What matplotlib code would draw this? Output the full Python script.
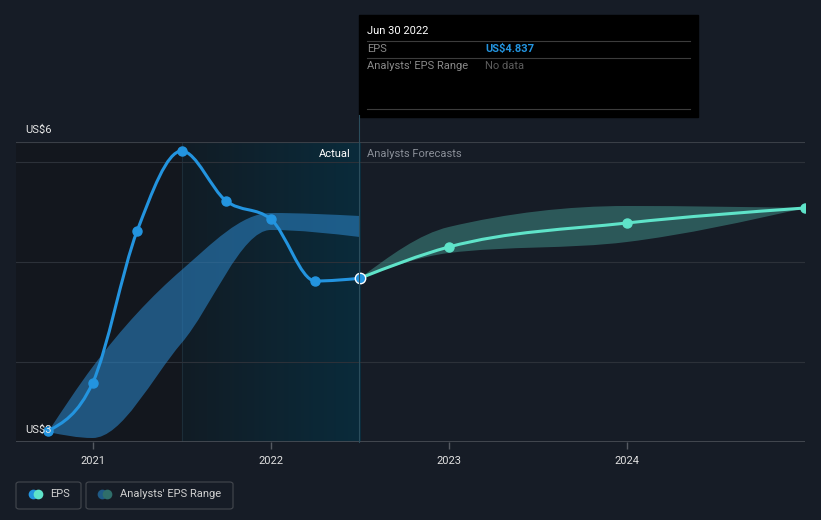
import numpy as np
import matplotlib.pyplot as plt
from matplotlib.path import Path
from matplotlib.patches import PathPatch, FancyBboxPatch, Rectangle
from matplotlib.colors import LinearSegmentedColormap

plt.rcParams['font.family'] = ['Roboto', 'DejaVu Sans']

# EPS history (quarter ends as decimal years)
eps_x = [2020.75, 2021.0, 2021.25, 2021.5, 2021.75, 2022.0, 2022.25, 2022.5]
eps_y = [3.31, 3.79, 5.31, 6.11, 5.61, 5.43, 4.81, 4.837]

# analysts' past EPS range
past_x = [2020.75, 2021.0, 2021.5, 2022.0, 2022.5]
past_lo = [3.30, 3.24, 4.19, 5.32, 5.25]
past_hi = [3.30, 3.95, 4.92, 5.49, 5.46]

# forecast
fc_x = [2022.5, 2023.0, 2024.0, 2025.0]
fc_y = [4.837, 5.15, 5.39, 5.54]
fc_lo = [4.837, 5.09, 5.20, 5.54]
fc_hi = [4.837, 5.35, 5.56, 5.54]

years = [2021, 2022, 2023, 2024]

BG = '#161c26'
BLUE = '#2394df'
TEAL = '#5fe3c9'


def mono_slopes(x, y):
    x = np.asarray(x, float)
    y = np.asarray(y, float)
    h = np.diff(x)
    s = np.diff(y) / h
    m = np.zeros(len(x))
    for i in range(1, len(x) - 1):
        p = (s[i - 1] * h[i] + s[i] * h[i - 1]) / (h[i - 1] + h[i])
        m[i] = (np.sign(s[i - 1]) + np.sign(s[i])) * min(abs(s[i - 1]), abs(s[i]), 0.5 * abs(p))
    m[0] = (3 * s[0] - m[1]) / 2 if len(x) > 2 else s[0]
    m[-1] = (3 * s[-1] - m[-2]) / 2 if len(x) > 2 else s[-1]
    return m


def bezier_pts(x, y):
    # control points of a monotone cubic curve through the points
    m = mono_slopes(x, y)
    verts = []
    for i in range(len(x) - 1):
        dx = (x[i + 1] - x[i]) / 3
        verts += [(x[i] + dx, y[i] + dx * m[i]),
                  (x[i + 1] - dx, y[i + 1] - dx * m[i + 1]),
                  (x[i + 1], y[i + 1])]
    return verts


def curve_path(x, y):
    verts = [(x[0], y[0])] + bezier_pts(x, y)
    codes = [Path.MOVETO] + [Path.CURVE4] * (len(verts) - 1)
    return Path(verts, codes)


def band_path(x, lo, hi):
    up = [(x[0], hi[0])] + bezier_pts(x, hi)
    xr = list(x)[::-1]
    down = [(xr[0], lo[-1])] + bezier_pts(xr, list(lo)[::-1])
    verts = up + down + [up[0]]
    codes = ([Path.MOVETO] + [Path.CURVE4] * (len(up) - 1) + [Path.LINETO]
             + [Path.CURVE4] * (len(down) - 1) + [Path.CLOSEPOLY])
    return Path(verts, codes)


fig = plt.figure(figsize=(8.21, 5.2), dpi=100, facecolor=BG)
ax = fig.add_axes([16 / 821, 78 / 520, 789 / 821, 300 / 520])
ax.set_facecolor(BG)
ax.set_xlim(2020.57, 2025.0)
ax.set_ylim(3.2, 6.2)

# shaded past regions
ax.add_patch(Rectangle((2020.57, 3.2), 2021.5 - 2020.57, 3.0, color='#13171e', zorder=0, lw=0))
cmap = LinearSegmentedColormap.from_list('act', ['#111c25', '#0a2b3b'])
ax.imshow(np.linspace(0, 1, 100).reshape(1, -1), cmap=cmap, aspect='auto',
          extent=[2021.5, 2022.5, 3.2, 6.2], zorder=0)
ax.set_xlim(2020.57, 2025.0)
ax.set_ylim(3.2, 6.2)
ax.axvline(2021.5, color='#1c2d38', lw=0.8, zorder=0.5)

for v in [4, 5, 6]:
    ax.axhline(v, color='#2c3139', lw=0.8, zorder=1)
ax.axhline(6.2, color='#3a3f47', lw=0.8, zorder=1)
ax.axhline(3.2, color='#4a4f57', lw=1.2, zorder=1)

# bands
ax.add_patch(PathPatch(band_path(past_x, past_lo, past_hi), fc='#2a80c0', ec='none', alpha=0.6, zorder=2))
ax.add_patch(PathPatch(band_path(fc_x, fc_lo, fc_hi), fc='#3f8a84', ec='none', alpha=0.55, zorder=2))

# lines
ax.add_patch(PathPatch(curve_path(eps_x, eps_y), fc='none', ec=BLUE, lw=2.2, zorder=3))
ax.add_patch(PathPatch(curve_path(fc_x, fc_y), fc='none', ec=TEAL, lw=2.2, zorder=3))
ax.plot(eps_x[:-1], eps_y[:-1], 'o', color=BLUE, ms=6.5, zorder=4)
ax.plot(fc_x[1:], fc_y[1:], 'o', color=TEAL, ms=6.5, zorder=4)
ax.plot(eps_x[-1], eps_y[-1], 'o', color=BLUE, mec='white', mew=1, ms=7.5, zorder=5)

for s in ax.spines.values():
    s.set_visible(False)
ax.set_yticks([])
ax.set_xticks(years)
ax.set_xticklabels([str(y) for y in years])
ax.tick_params(axis='x', colors='#555a62', length=5, width=1, labelcolor='#e0e0e0',
               labelsize=8, pad=5)

# divider and labels
fig.add_artist(plt.Line2D([359 / 821, 359 / 821], [78 / 520, 405 / 520], color='#2b4d5c', lw=0.8))
fig.text(351 / 821, 1 - 154 / 520, 'Actual', color='#ffffff', fontsize=8, ha='right', va='center')
fig.text(367 / 821, 1 - 154 / 520, 'Analysts Forecasts', color='#8a8f98', fontsize=8, ha='left', va='center')
fig.text(25 / 821, 1 - 130 / 520, 'US$6', color='#e6e6e6', fontsize=8, va='center')
fig.text(25 / 821, 1 - 430 / 520, 'US$3', color='#e6e6e6', fontsize=8, va='center', zorder=0)

# tooltip
fig.add_artist(Rectangle((359 / 821, 1 - 117 / 520), 339 / 821, 102 / 520, color='#000000',
                         transform=fig.transFigure))
fig.text(367 / 821, 1 - 31 / 520, 'Jun 30 2022', color='#ffffff', fontsize=8, va='center')
for yy in [41, 58, 109]:
    fig.add_artist(plt.Line2D([367 / 821, 690 / 821], [1 - yy / 520] * 2, color='#3c3c3c', lw=0.8))
fig.text(367 / 821, 1 - 49 / 520, 'EPS', color='#8a8a8a', fontsize=8, va='center')
fig.text(485 / 821, 1 - 49 / 520, 'US$4.837', color=BLUE, fontsize=8, va='center', fontweight='bold')
fig.text(367 / 821, 1 - 66 / 520, "Analysts' EPS Range", color='#8a8a8a', fontsize=8, va='center')
fig.text(485 / 821, 1 - 66 / 520, 'No data', color='#5c5c5c', fontsize=8, va='center')

# legend
for x0, w in [(16, 65), (86, 147)]:
    fig.add_artist(FancyBboxPatch((x0 / 821, 1 - 509 / 520), w / 821, 27 / 520,
                                  boxstyle='round,pad=0,rounding_size=0.004', fc='none',
                                  ec='#44484f', lw=0.8, transform=fig.transFigure))
ly = 1 - 494 / 520
fig.add_artist(plt.Line2D([33 / 821], [ly], marker='o', ms=7, color=BLUE, mec='none'))
fig.add_artist(plt.Line2D([38 / 821], [ly], marker='o', ms=7, color=TEAL, mec='none'))
fig.text(50 / 821, ly, 'EPS', color='#d0d0d0', fontsize=8, va='center')
fig.add_artist(plt.Line2D([102 / 821], [ly], marker='o', ms=7, color='#1f5a86', mec='none'))
fig.add_artist(plt.Line2D([107 / 821], [ly], marker='o', ms=7, color='#2f6e6a', mec='none'))
fig.text(120 / 821, ly, "Analysts' EPS Range", color='#d0d0d0', fontsize=8, va='center')

fig.savefig('out.png', dpi=100, facecolor=BG)
